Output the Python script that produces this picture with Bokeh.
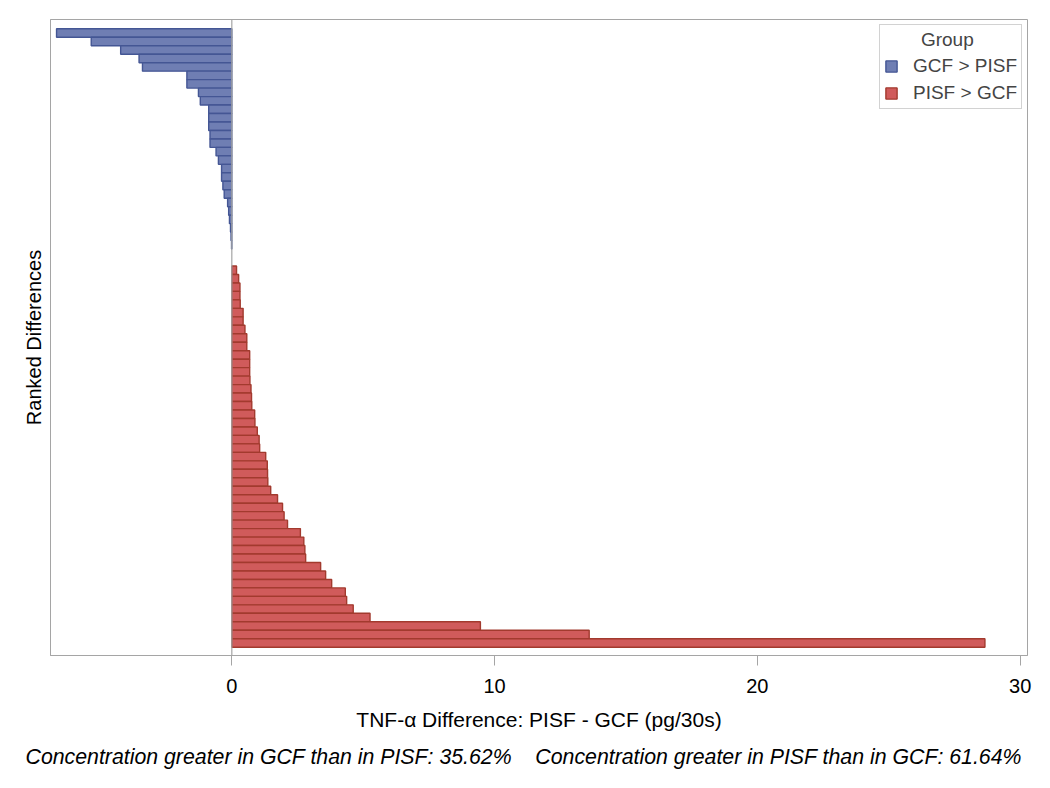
from bokeh.plotting import figure
from bokeh.models import Range1d, Span, Legend, LegendItem, Title, ColumnDataSource, FixedTicker
from bokeh.embed import file_html
from bokeh.resources import INLINE

# Ranked differences (pg/30s), ordered from most negative to most positive
gcf_gt_pisf = [-6.67, -5.35, -4.23, -3.53, -3.40, -1.71, -1.71, -1.27, -1.20, -0.88,
               -0.88, -0.88, -0.83, -0.83, -0.60, -0.51, -0.39, -0.39, -0.34, -0.29,
               -0.16, -0.12, -0.09, -0.05, -0.03, -0.01]
no_difference = [0.0, 0.0]
pisf_gt_gcf = [0.18, 0.26, 0.31, 0.31, 0.32, 0.43, 0.43, 0.50, 0.57, 0.57,
               0.68, 0.68, 0.68, 0.69, 0.73, 0.75, 0.76, 0.87, 0.88, 0.97,
               1.04, 1.06, 1.29, 1.35, 1.36, 1.37, 1.48, 1.74, 1.93, 1.99,
               2.12, 2.61, 2.74, 2.78, 2.81, 3.38, 3.57, 3.80, 4.32, 4.37,
               4.62, 5.26, 9.46, 13.60, 28.66]
group_labels = ["GCF > PISF", "PISF > GCF"]
x_ticks = [0, 10, 20, 30]
footnote_parts = ["Concentration greater in GCF than in PISF: 35.62%",
                  "Concentration greater in PISF than in GCF: 61.64%"]

n_blue = len(gcf_gt_pisf)
n_zero = len(no_difference)
n_red = len(pisf_gt_gcf)
n_total = n_blue + n_zero + n_red

blue_src = ColumnDataSource(dict(rank=list(range(1, n_blue + 1)), diff=gcf_gt_pisf))
red_start = n_blue + n_zero + 1
red_src = ColumnDataSource(dict(rank=list(range(red_start, red_start + n_red)), diff=pisf_gt_gcf))

FONT = "Liberation Sans"
GRAY = "#A5A5A5"

p = figure(frame_width=977, frame_height=636,
           min_border_left=50, min_border_top=19, min_border_right=15, min_border_bottom=118,
           x_range=Range1d(-6.9, 30.28), y_range=Range1d(n_total + 1.48, -0.6),
           output_backend="svg", toolbar_location=None,
           background_fill_color="white", border_fill_color="white")

p.xgrid.visible = False
p.ygrid.visible = False
p.outline_line_color = GRAY
p.outline_line_width = 1

p.add_layout(Span(location=0, dimension="height", line_color=GRAY, line_width=1.2))

rb = p.hbar(y="rank", left=0, right="diff", height=1.0, source=blue_src,
            fill_color="#6F7EB3", line_color="#445694", line_width=1.4)
rr = p.hbar(y="rank", left=0, right="diff", height=1.0, source=red_src,
            fill_color="#D05B5B", line_color="#A23A2E", line_width=1.4)

# x axis
xa = p.xaxis[0]
xa.ticker = FixedTicker(ticks=x_ticks)
xa.axis_label = "TNF-\u03b1 Difference: PISF - GCF (pg/30s)"
xa.axis_label_text_font = FONT
xa.axis_label_text_font_size = "21px"
xa.axis_label_text_font_style = "normal"
xa.axis_label_text_color = "black"
xa.axis_label_standoff = 12
xa.major_label_text_font = FONT
xa.major_label_text_font_size = "20px"
xa.major_label_text_color = "black"
xa.major_label_standoff = 13
xa.major_tick_in = 0
xa.major_tick_out = 10
xa.major_tick_line_color = GRAY
xa.minor_tick_line_color = None
xa.axis_line_color = GRAY

# y axis
ya = p.yaxis[0]
ya.axis_label = "Ranked Differences"
ya.axis_label_text_font = FONT
ya.axis_label_text_font_size = "20px"
ya.axis_label_text_font_style = "normal"
ya.axis_label_text_color = "black"
ya.axis_label_standoff = 6
ya.major_label_text_font_size = "0px"
ya.major_label_text_color = None
ya.major_tick_line_color = None
ya.minor_tick_line_color = None
ya.axis_line_color = GRAY
ya.ticker = FixedTicker(ticks=[])

legend = Legend(items=[LegendItem(label=group_labels[0], renderers=[rb]),
                       LegendItem(label=group_labels[1], renderers=[rr])],
                title="\u00a0" * 7 + "Group",
                location="top_right", margin=5, padding=4,
                title_text_font=FONT, title_text_font_size="19px", title_text_font_style="normal",
                title_standoff=4,
                label_text_font=FONT, label_text_font_size="19px",
                glyph_width=14, glyph_height=14, label_height=20, label_standoff=15,
                spacing=5, border_line_color=GRAY, border_line_width=1,
                background_fill_color="white", background_fill_alpha=1.0)
p.add_layout(legend)

p.add_layout(Title(text=footnote_parts[0] + "\u00a0\u00a0\u00a0\u00a0" + footnote_parts[1],
                   text_font=FONT, text_font_size="21.3px", text_font_style="italic",
                   text_color="black", align="left", offset=-25, standoff=19), "below")

open("out.html", "w").write(file_html(p, INLINE))
